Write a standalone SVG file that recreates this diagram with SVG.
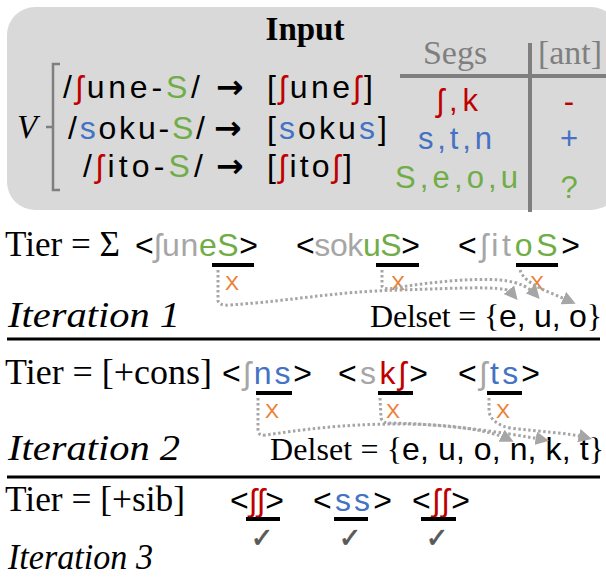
<svg xmlns="http://www.w3.org/2000/svg" width="606" height="577" viewBox="0 0 606 577">
<defs>
<style>
.serif{font-family:"Liberation Serif","Times New Roman",serif;fill:#000}
.sans{font-family:"Liberation Sans","DejaVu Sans",sans-serif;fill:#000}
.arr{font-family:"DejaVu Sans",sans-serif;font-weight:bold;fill:#000}
.r{fill:#c00000}.b{fill:#4472c4}.g{fill:#70ad47}.lg{fill:#a6a6a6}.dg{fill:#7f7f7f}.o{fill:#ed7d31}
.ck{font-family:"DejaVu Sans",sans-serif;fill:#595959;stroke:#595959;stroke-width:0.8}
.ul{stroke:#000;stroke-width:4}
.dot{fill:none;stroke:#a6a6a6;stroke-width:3;stroke-dasharray:2.5 2.5;marker-end:url(#ah)}
.sep{stroke:#000;stroke-width:3}
</style>
<marker id="ah" viewBox="0 0 10 10" refX="7" refY="5" markerWidth="4.5" markerHeight="4.5" orient="auto" markerUnits="strokeWidth">
<path d="M0,0 L10,5 L0,10 Z" fill="#a6a6a6"/>
</marker>
</defs>

<g id="input-box">
<rect x="7" y="7" width="612" height="203" rx="28" fill="#d9d9d9"/>
<text class="serif" x="305" y="40" font-size="33" font-weight="bold" text-anchor="middle">Input</text>
<text class="serif" x="17" y="138" font-size="33" font-style="italic">V</text>
<path d="M60,64 H53 V190 H60 M53,127 H46" fill="none" stroke="#7f7f7f" stroke-width="2.5"/>
<text class="sans" font-size="32" y="98" x="63" textLength="137" lengthAdjust="spacing">/<tspan class="r">ʃ</tspan>une-<tspan class="g">S</tspan>/</text>
<text class="arr" font-size="33" x="216" y="98">→</text>
<text class="sans" font-size="32" y="98" x="267" textLength="106" lengthAdjust="spacing">[<tspan class="r">ʃ</tspan>une<tspan class="r">ʃ</tspan>]</text>
<text class="sans" font-size="32" y="139" x="68" textLength="137" lengthAdjust="spacing">/<tspan class="b">s</tspan>oku-<tspan class="g">S</tspan>/</text>
<text class="arr" font-size="33" x="214" y="139">→</text>
<text class="sans" font-size="32" y="139" x="267" textLength="120" lengthAdjust="spacing">[<tspan class="b">s</tspan>oku<tspan class="b">s</tspan>]</text>
<text class="sans" font-size="32" y="177" x="83" textLength="120" lengthAdjust="spacing">/<tspan class="r">ʃ</tspan>ito-<tspan class="g">S</tspan>/</text>
<text class="arr" font-size="33" x="216" y="177">→</text>
<text class="sans" font-size="32" y="177" x="267" textLength="85" lengthAdjust="spacing">[<tspan class="r">ʃ</tspan>ito<tspan class="r">ʃ</tspan>]</text>
</g>

<g id="feature-table">
<text class="serif dg" x="455" y="64" font-size="34" text-anchor="middle">Segs</text>
<text class="serif dg" x="570" y="64" font-size="34" text-anchor="middle">[ant]</text>
<line x1="400" y1="76" x2="606" y2="76" stroke="#7f7f7f" stroke-width="4"/>
<line x1="530" y1="43" x2="530" y2="212" stroke="#7f7f7f" stroke-width="4"/>
<text class="sans r" x="437" y="111" font-size="31" textLength="41" lengthAdjust="spacing">ʃ,k</text>
<text class="sans r" x="569" y="112" font-size="31" text-anchor="middle">-</text>
<text class="sans b" x="418" y="149" font-size="31" textLength="74" lengthAdjust="spacing">s,t,n</text>
<text class="sans b" x="569" y="149" font-size="31" text-anchor="middle">+</text>
<text class="sans g" x="395" y="188" font-size="31" textLength="123" lengthAdjust="spacing">S,e,o,u</text>
<text class="sans g" x="569" y="198" font-size="31" text-anchor="middle">?</text>
</g>

<g id="iteration1">
<text class="serif" x="5" y="256" font-size="36" textLength="115" lengthAdjust="spacingAndGlyphs">Tier = Σ</text>
<text class="sans" font-size="32" y="256" x="135" textLength="123" lengthAdjust="spacing">&lt;<tspan class="lg">ʃun</tspan><tspan class="g">eS</tspan>&gt;</text>
<text class="sans" font-size="32" y="256" x="296" textLength="124" lengthAdjust="spacing">&lt;<tspan class="lg">sok</tspan><tspan class="g">uS</tspan>&gt;</text>
<text class="sans" font-size="32" y="256" x="458" textLength="122" lengthAdjust="spacing">&lt;<tspan class="lg">ʃit</tspan><tspan class="g">oS</tspan>&gt;</text>
<line class="ul" x1="212" y1="265" x2="254" y2="265"/>
<line class="ul" x1="376" y1="265" x2="419" y2="265"/>
<line class="ul" x1="516" y1="265" x2="558" y2="265"/>
<text class="sans o" x="232" y="290" font-size="21" text-anchor="middle">X</text>
<text class="sans o" x="398" y="290" font-size="21" text-anchor="middle">X</text>
<text class="sans o" x="537" y="290" font-size="21" text-anchor="middle">X</text>
<text class="serif" x="8" y="327" font-size="35" font-style="italic" textLength="172" lengthAdjust="spacingAndGlyphs">Iteration 1</text>
<text class="serif" x="370" y="327" font-size="32" textLength="232" lengthAdjust="spacing">Delset = {<tspan class="sans">e, u, o</tspan>}</text>
</g>

<g id="iteration2">
<text class="serif" x="5" y="384" font-size="36" textLength="207" lengthAdjust="spacingAndGlyphs">Tier = [+cons]</text>
<text class="sans" font-size="32" y="384" x="222" textLength="90" lengthAdjust="spacing">&lt;<tspan class="lg">ʃ</tspan><tspan class="b">ns</tspan>&gt;</text>
<text class="sans" font-size="32" y="384" x="338" textLength="90" lengthAdjust="spacing">&lt;<tspan class="lg">s</tspan><tspan class="r">kʃ</tspan>&gt;</text>
<text class="sans" font-size="32" y="384" x="458" textLength="82" lengthAdjust="spacing">&lt;<tspan class="lg">ʃ</tspan><tspan class="b">ts</tspan>&gt;</text>
<line class="ul" x1="256" y1="393" x2="292" y2="393"/>
<line class="ul" x1="378" y1="393" x2="413" y2="393"/>
<line class="ul" x1="487" y1="393" x2="522" y2="393"/>
<text class="sans o" x="272" y="418" font-size="21" text-anchor="middle">X</text>
<text class="sans o" x="393" y="418" font-size="21" text-anchor="middle">X</text>
<text class="sans o" x="503" y="418" font-size="21" text-anchor="middle">X</text>
<text class="serif" x="8" y="460" font-size="35" font-style="italic" textLength="172" lengthAdjust="spacingAndGlyphs">Iteration 2</text>
<text class="serif" x="270" y="460" font-size="32" textLength="334" lengthAdjust="spacing">Delset = {<tspan class="sans">e, u, o, n, k, t</tspan>}</text>
</g>

<g id="iteration3">
<text class="serif" x="5" y="511" font-size="36" textLength="180" lengthAdjust="spacingAndGlyphs">Tier = [+sib]</text>
<text class="sans" font-size="32" y="511" x="230" textLength="54" lengthAdjust="spacing">&lt;<tspan class="r">ʃʃ</tspan>&gt;</text>
<text class="sans" font-size="32" y="511" x="313" textLength="79" lengthAdjust="spacing">&lt;<tspan class="b">ss</tspan>&gt;</text>
<text class="sans" font-size="32" y="511" x="412" textLength="58" lengthAdjust="spacing">&lt;<tspan class="r">ʃʃ</tspan>&gt;</text>
<line class="ul" x1="246" y1="519" x2="280" y2="519"/>
<line class="ul" x1="334" y1="519" x2="368" y2="519"/>
<line class="ul" x1="421" y1="519" x2="456" y2="519"/>
<text class="ck" x="262" y="547" font-size="27" text-anchor="middle">✓</text>
<text class="ck" x="350" y="547" font-size="27" text-anchor="middle">✓</text>
<text class="ck" x="437" y="547" font-size="27" text-anchor="middle">✓</text>
<text class="serif" x="8" y="569" font-size="35" font-style="italic" textLength="145" lengthAdjust="spacingAndGlyphs">Iteration 3</text>
</g>

<g id="separators">
<line class="sep" x1="7" y1="339" x2="600" y2="339"/>
<line class="sep" x1="7" y1="477" x2="600" y2="477"/>
</g>

<g id="connectors">
<path class="dot" d="M218,270 L218,300 Q218,306 230,305 C300,300 330,292 400,290 C460,288 500,286 510,291 L515,297"/>
<path class="dot" d="M382,270 L382,286 Q384,290 395,288 C430,282 470,278 500,280 C520,282 530,288 537,296"/>
<path class="dot" d="M520,270 C525,285 550,292 572,302"/>
<path class="dot" d="M258,398 L258,430 Q258,436 266,435 C300,430 340,424 400,424 C450,424 490,430 510,440"/>
<path class="dot" d="M380,398 L381,418 Q383,424 392,423 C430,424 480,428 545,440"/>
<path class="dot" d="M489,398 L489,412 Q492,424 510,428 C540,432 565,432 588,438"/>
</g>
</svg>
